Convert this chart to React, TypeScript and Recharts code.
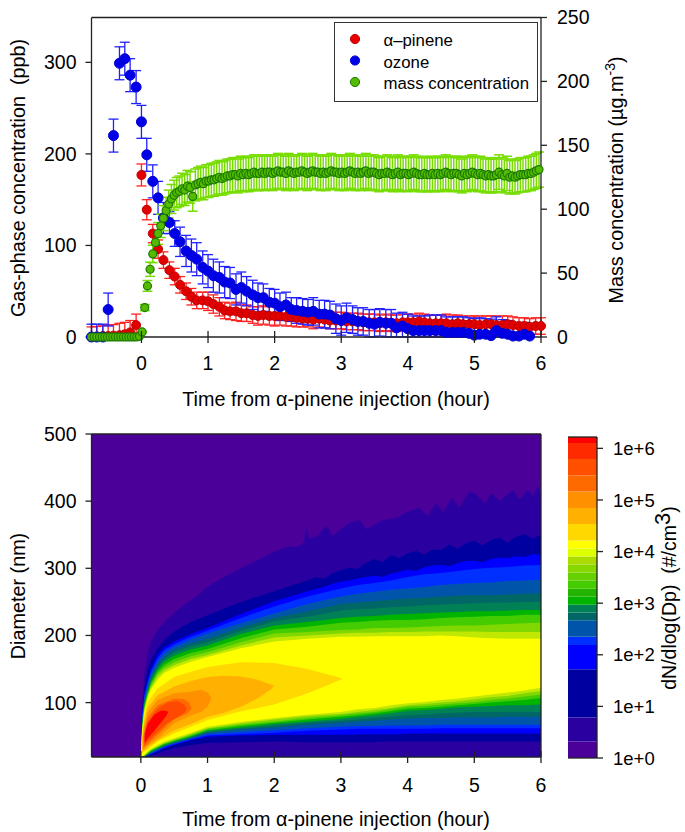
import {
  Area,
  Bar,
  BarChart,
  ComposedChart,
  ErrorBar,
  ReferenceLine,
  Scatter,
  ScatterChart,
  XAxis,
  YAxis,
} from "recharts";

const FONT = '"Liberation Sans", Arial, sans-serif';

// gas-phase readings, every 5 minutes
const gasTimes = [
  -0.75, -0.67, -0.58, -0.5, -0.42, -0.33, -0.25, -0.17, -0.08, 0, 0.08, 0.17, 0.25, 0.33, 0.42, 0.5, 0.58,
  0.67, 0.75, 0.83, 0.92, 1, 1.08, 1.17, 1.25, 1.33, 1.42, 1.5, 1.58, 1.67, 1.75, 1.83, 1.92, 2, 2.08, 2.17,
  2.25, 2.33, 2.42, 2.5, 2.58, 2.67, 2.75, 2.83, 2.92, 3, 3.08, 3.17, 3.25, 3.33, 3.42, 3.5, 3.58, 3.67, 3.75,
  3.83, 3.92, 4, 4.08, 4.17, 4.25, 4.33, 4.42, 4.5, 4.58, 4.67, 4.75, 4.83, 4.92, 5, 5.08, 5.17, 5.25, 5.33,
  5.42, 5.5, 5.58, 5.67, 5.75, 5.83, 5.92, 6,
];
const pineneValues = [
  0, 0.5, 1, 1, 1.5, 2, 3, 5, 13, 177, 139, 113, 96, 84, 73, 66, 57, 50, 44, 40, 40, 39, 36, 33, 29, 28, 28, 26,
  26, 24, 23, 24, 23, 23, 23, 22, 22, 21, 20, 20, 19, 20, 19, 18, 18, 18, 17, 17, 17, 16, 16, 16, 15, 16, 15, 15,
  16, 16, 16, 17, 16, 15, 15, 15, 15, 14, 15, 14, 14, 14, 13, 14, 14, 13, 13, 14, 13, 12, 12, 11, 12, 12,
];
const pineneErrors = [
  11, 11, 12, 12, 12, 13, 13, 13, 12, 12, 11, 10, 10, 9, 9, 9, 9, 9, 9, 9, 9, 10, 10, 10, 9, 9, 10, 9, 9, 9, 10,
  10, 10, 11, 10, 10, 10, 10, 9, 9, 10, 9, 9, 9, 9, 9, 9, 9, 9, 9, 9, 9, 9, 9, 9, 9, 9, 9, 9, 9, 9, 9, 9, 9, 10,
  10, 9, 9, 9, 9, 10, 9, 9, 10, 10, 9, 9, 9, 9, 9, 9, 9,
];
const ozoneValues = [
  0, 0, 0, 30, 220, 299, 304, 286, 273, 235, 199, 170, 152, 130, 125, 113, 104, 94, 89, 85, 76, 72, 67, 65, 60,
  59, 52, 54, 50, 46, 43, 43, 38, 37, 33, 35, 30, 29, 28, 27, 28, 25, 25, 24, 20, 18, 21, 19, 17, 17, 15, 14, 16,
  15, 15, 10, 12, 9, 7, 7, 7, 7, 7, 7, 5, 5, 5, 5, 4, 2, 3, 3, 1.5, 7, 4, 3, 1, 1, 3, 1,
];
const ozoneErrors = [
  14, 14, 14, 18, 18, 18, 18, 18, 18, 18, 18, 18, 18, 17, 12, 14, 16, 17, 18, 18, 18, 18, 18, 17, 17, 17, 17, 17,
  16, 16, 16, 15, 15, 15, 15, 14, 13, 14, 14, 14, 15, 15, 15, 15, 16, 16, 16, 15, 15, 15, 15, 16, 15, 15, 15, 16,
  15, 16, 16, 16, 16, 17, 17, 17, 17, 17, 17, 17, 17, 18, 18, 17, 18, 15, 15, 15, 15, 14, 13, 14,
];

// aerosol mass readings are denser than the gas ones
const massTimes = [
  -0.75, -0.71, -0.67, -0.63, -0.59, -0.55, -0.51, -0.47, -0.43, -0.39, -0.35, -0.31, -0.27, -0.23, -0.19, -0.15,
  -0.11, -0.07, -0.03, 0.01, 0.05, 0.09, 0.13, 0.17, 0.21, 0.25, 0.29, 0.33, 0.37, 0.41, 0.45, 0.49, 0.53, 0.57,
  0.61, 0.65, 0.69, 0.73, 0.77, 0.81, 0.85, 0.89, 0.93, 0.97, 1.01, 1.05, 1.09, 1.13, 1.17, 1.21, 1.25, 1.29, 1.33,
  1.37, 1.41, 1.45, 1.49, 1.53, 1.57, 1.61, 1.65, 1.69, 1.73, 1.77, 1.81, 1.85, 1.89, 1.93, 1.97, 2.01, 2.05, 2.09,
  2.13, 2.17, 2.21, 2.25, 2.29, 2.33, 2.37, 2.41, 2.45, 2.49, 2.53, 2.57, 2.61, 2.65, 2.69, 2.73, 2.77, 2.81, 2.85,
  2.89, 2.93, 2.97, 3.01, 3.05, 3.09, 3.13, 3.17, 3.21, 3.25, 3.29, 3.33, 3.37, 3.41, 3.45, 3.49, 3.53, 3.57, 3.61,
  3.65, 3.69, 3.73, 3.77, 3.81, 3.85, 3.89, 3.93, 3.97, 4.01, 4.05, 4.09, 4.13, 4.17, 4.21, 4.25, 4.29, 4.33, 4.37,
  4.41, 4.45, 4.49, 4.53, 4.57, 4.61, 4.65, 4.69, 4.73, 4.77, 4.81, 4.85, 4.89, 4.93, 4.97, 5.01, 5.05, 5.09, 5.13,
  5.17, 5.21, 5.25, 5.29, 5.33, 5.37, 5.41, 5.45, 5.49, 5.53, 5.57, 5.61, 5.65, 5.69, 5.73, 5.77, 5.81, 5.85, 5.89,
  5.93, 5.97,
];
const massValues = [
  0, 0, 0, 0, 0, 0, 0, 0, 0, 0, 0, 0, 0, 0, 0, 0, 0, 0, 0.5, 4, 23, 40, 53, 65, 74, 81, 87, 93, 99, 104, 108, 111,
  113, 114, 116, 115, 118, 117, 110, 119, 120, 121, 120, 122, 122, 123, 123, 124, 125, 124, 125, 126, 126, 127, 127,
  126, 128, 127, 128, 127, 128, 129, 128, 128, 129, 128, 129, 129, 128, 129, 130, 129, 129, 128, 130, 129, 128, 129,
  129, 130, 129, 128, 129, 130, 129, 129, 128, 129, 128, 129, 130, 129, 129, 128, 129, 128, 129, 130, 129, 128, 129,
  128, 129, 130, 128, 129, 129, 128, 127, 128, 128, 129, 128, 127, 128, 129, 127, 128, 128, 127, 128, 129, 128, 127,
  127, 128, 127, 127, 128, 127, 128, 127, 128, 129, 128, 127, 128, 128, 127, 126, 128, 127, 128, 129, 128, 127, 128,
  127, 126, 127, 126, 126, 127, 129, 127, 126, 128, 125, 126, 125, 126, 127, 127, 127, 128, 128, 129, 130, 131,
];
const massRelativeError = 0.105;

const leftTicks = [0, 100, 200, 300];
const rightTicks = [0, 50, 100, 150, 200, 250];
const timeTicks = [0, 1, 2, 3, 4, 5, 6];
const diameterTicks = [100, 200, 300, 400, 500];
const legendNames = ["α–pinene", "ozone", "mass concentration"];
const legendFills = ["#E80000", "#0000E8", "#55BB00"];
const legendEdges = ["#C00000", "#0000D0", "#1A7A00"];

// contour boundaries of the size distribution (nm)
const contourTimes = [
  0, 0.02, 0.05, 0.1, 0.15, 0.25, 0.35, 0.5, 0.75, 1, 1.5, 2, 2.5, 3, 3.25, 3.5, 3.75, 4, 4.25, 4.5, 4.75, 5, 5.25,
  5.5, 5.75, 6,
];
const indigoTimes = [
  0, 0.02, 0.05, 0.1, 0.15, 0.25, 0.4, 0.58, 0.88, 1, 1.25, 1.5, 1.75, 2, 2.2, 2.38, 2.45, 2.48, 2.53, 2.63, 2.78,
  2.88, 3, 3.13, 3.28, 3.38, 3.63, 3.83, 3.98, 4.18, 4.3, 4.43, 4.53, 4.66, 4.78, 4.93, 5.03, 5.16, 5.26, 5.38, 5.58,
  5.68, 5.8, 5.88, 5.95, 6,
];
const indigoHi = [
  20, 100, 140, 173, 190, 208, 225, 240, 262, 273, 287, 300, 312, 325, 332, 333, 340, 360, 344, 347, 363, 348, 358,
  368, 372, 358, 372, 375, 383, 390, 378, 398, 383, 405, 390, 415, 410, 397, 412, 400, 417, 402, 417, 407, 425, 405,
];
const indigoLo = [
  19, 19, 19, 19, 19, 19, 19, 19, 19, 19, 19, 19, 19, 19, 19, 19, 19, 19, 19, 19, 19, 19, 19, 19, 19, 19, 19, 19, 19,
  19, 19, 19, 19, 19, 19, 19, 19, 19, 19, 19, 19, 19, 19, 19, 19, 19,
];
// the two blue edges are rougher, so they get a finer time grid
const roughTimes = [
  0, 0.02, 0.05, 0.1, 0.15, 0.25, 0.35, 0.5, 0.75, 1, 1.5, 2, 2.5, 2.625, 2.75, 2.875, 3, 3.125, 3.25, 3.375, 3.5,
  3.625, 3.75, 3.875, 4, 4.125, 4.25, 4.375, 4.5, 4.625, 4.75, 4.875, 5, 5.125, 5.25, 5.375, 5.5, 5.625, 5.75, 5.875,
  6,
];
const darkHi = [
  20, 90, 122, 149, 163, 181, 193, 206, 220, 230, 250, 266, 282, 287, 284, 293, 297, 301, 299, 308, 314, 309, 320, 315,
  322, 326, 320, 328, 327, 335, 329, 337, 341, 334, 342, 346, 338, 347, 351, 344, 350,
];
const darkLo = [
  20, 19, 19, 20, 21, 24, 28, 32, 37, 40, 41, 42, 41, 41, 41, 41, 41, 41, 41, 41, 41, 42, 42, 42, 42, 42, 42, 42, 42,
  42, 42, 42, 42, 42, 42, 42, 42, 42, 42, 42, 42,
];
const blueHi = [
  20, 84, 114, 134, 150, 171, 182, 191, 202, 211, 232, 251, 266, 269, 272, 277, 280, 282, 285, 287, 289, 287, 292, 295,
  298, 296, 302, 304, 305, 303, 308, 311, 311, 309, 314, 316, 315, 318, 317, 321, 320,
];
const blueLo = [
  20, 19, 19, 21, 23, 27, 32, 37, 44, 49, 51, 52, 52, 52, 52, 52, 52, 52, 53, 53, 53, 53, 53, 53, 54, 54, 54, 54, 54,
  54, 54, 54, 54, 54, 54, 54, 54, 54, 54, 54, 54,
];
const brightHi = [20, 80, 110, 130, 146, 166, 178, 187, 198, 207, 226, 243, 258, 270, 275, 278, 282, 287, 291, 293, 296, 299, 301, 302, 304, 305];
const brightLo = [20, 19, 19, 21, 24, 28, 33, 38, 45, 51, 53, 55, 58, 60, 61, 61, 61, 61, 61, 62, 62, 62, 62, 62, 62, 62];
const navyHi = [20, 76, 106, 125, 142, 161, 174, 183, 194, 203, 218, 233, 247, 258, 262, 265, 268, 270, 272, 275, 277, 278, 279, 281, 282, 283];
const navyLo = [20, 19, 20, 22, 25, 29, 34, 39, 46, 53, 56, 59, 62, 64, 65, 65, 66, 66, 66, 67, 67, 67, 67, 67, 67, 67];
const tealHi = [20, 72, 102, 122, 138, 156, 168, 178, 188, 195, 212, 226, 236, 247, 249, 251, 253, 255, 256, 258, 259, 260, 260, 261, 262, 263];
const tealLo = [20, 19, 20, 22, 25, 30, 35, 40, 47, 55, 60, 63, 67, 70, 72, 73, 75, 76, 77, 77, 78, 78, 78, 79, 79, 79];
const seaHi = [20, 70, 99, 119, 135, 153, 165, 175, 184, 190, 207, 221, 228, 237, 239, 240, 242, 243, 245, 246, 247, 248, 249, 249, 250, 250];
const seaLo = [20, 19, 20, 23, 26, 31, 36, 41, 48, 56, 61, 65, 70, 73, 75, 77, 79, 81, 82, 84, 85, 86, 86, 86, 86, 86];
const greenHi = [20, 67, 96, 116, 131, 150, 161, 170, 179, 185, 202, 215, 220, 226, 228, 229, 231, 232, 233, 234, 235, 236, 236, 237, 238, 238];
const greenLo = [20, 19, 20, 23, 27, 32, 37, 42, 49, 58, 63, 68, 72, 76, 79, 81, 84, 88, 89, 91, 93, 94, 95, 96, 96, 97];
const limeHi = [20, 64, 93, 113, 128, 146, 156, 165, 174, 180, 196, 209, 213, 219, 220, 222, 223, 223, 224, 226, 227, 228, 229, 229, 231, 231];
const limeLo = [20, 20, 20, 24, 28, 33, 38, 43, 50, 59, 65, 70, 75, 79, 81, 84, 87, 91, 92, 94, 96, 98, 100, 102, 104, 107];
const grassHi = [20, 62, 90, 111, 125, 143, 152, 160, 169, 175, 190, 203, 205, 208, 209, 211, 211, 212, 213, 214, 215, 215, 216, 217, 218, 219];
const grassLo = [20, 20, 21, 25, 29, 34, 39, 44, 52, 61, 67, 72, 77, 81, 84, 86, 90, 94, 95, 97, 99, 101, 104, 106, 109, 112];
const oliveHi = [20, 60, 88, 109, 122, 139, 148, 156, 165, 171, 185, 197, 200, 203, 204, 204, 205, 205, 206, 206, 206, 206, 205, 205, 205, 205];
const oliveLo = [20, 20, 21, 26, 30, 35, 40, 45, 53, 62, 69, 75, 80, 83, 86, 89, 92, 96, 98, 100, 102, 105, 108, 110, 114, 117];
const yellowHi = [20, 58, 85, 107, 119, 134, 144, 152, 161, 168, 181, 191, 195, 198, 198, 199, 199, 199, 199, 200, 199, 197, 196, 195, 195, 195];
const yellowLo = [20, 20, 22, 27, 31, 37, 42, 47, 55, 64, 71, 77, 82, 86, 90, 92, 96, 99, 101, 104, 106, 109, 112, 115, 118, 122];
const goldTimes = [0.02, 0.05, 0.1, 0.25, 0.5, 0.75, 1, 1.5, 2, 2.5, 2.8, 2.95, 3.03];
const goldHi = [50, 78, 100, 121, 138, 146, 153, 160, 159, 150, 142, 138, 135];
const goldLo = [25, 27, 30, 42, 54, 64, 74, 87, 97, 114, 126, 132, 135];
const amberTimes = [0.02, 0.05, 0.1, 0.25, 0.5, 0.75, 1, 1.25, 1.5, 1.75, 1.95, 2];
const amberHi = [45, 70, 92, 111, 124, 132, 138, 140, 139, 134, 127, 125];
const amberLo = [27, 29, 33, 44, 59, 68, 79, 85, 94, 106, 120, 125];
const orangeTimes = [0.03, 0.05, 0.1, 0.25, 0.5, 0.75, 0.9, 1, 1.06];
const orangeHi = [48, 64, 85, 104, 114, 116, 119, 115, 107];
const orangeLo = [30, 31, 36, 47, 69, 81, 86, 94, 107];
const tangerineTimes = [0.04, 0.1, 0.25, 0.5, 0.65, 0.72, 0.76];
const tangerineHi = [50, 78, 96, 106, 105, 100, 92];
const tangerineLo = [33, 38, 52, 76, 82, 86, 92];
const vermilionTimes = [0.05, 0.1, 0.25, 0.4, 0.55, 0.65, 0.69];
const vermilionHi = [50, 72, 91, 100, 102, 97, 90];
const vermilionLo = [36, 42, 56, 70, 78, 85, 90];
const redTimes = [0.06, 0.1, 0.2, 0.3, 0.38, 0.41];
const redHi = [55, 68, 82, 88, 88, 86];
const redLo = [40, 46, 58, 70, 80, 86];
const floorTimes = [0.1, 6];
const floorHi = [20.5, 20.5];
const floorLo = [19, 19];
const baseTimes = [-0.74, 6];
const baseHi = [500, 500];
const baseLo = [19, 19];

const contours = [
  { color: "#4B0099", t: baseTimes, lo: baseLo, hi: baseHi },
  { color: "#2A00A0", t: indigoTimes, lo: indigoLo, hi: indigoHi },
  { color: "#0000A0", t: roughTimes, lo: darkLo, hi: darkHi },
  { color: "#0000FF", t: roughTimes, lo: blueLo, hi: blueHi },
  { color: "#0030FF", t: contourTimes, lo: brightLo, hi: brightHi },
  { color: "#0055AA", t: contourTimes, lo: navyLo, hi: navyHi },
  { color: "#006666", t: contourTimes, lo: tealLo, hi: tealHi },
  { color: "#008055", t: contourTimes, lo: seaLo, hi: seaHi },
  { color: "#00B400", t: contourTimes, lo: greenLo, hi: greenHi },
  { color: "#44CC00", t: contourTimes, lo: limeLo, hi: limeHi },
  { color: "#80D800", t: contourTimes, lo: grassLo, hi: grassHi },
  { color: "#C0E800", t: contourTimes, lo: oliveLo, hi: oliveHi },
  { color: "#FFFF00", t: contourTimes, lo: yellowLo, hi: yellowHi },
  { color: "#FFD800", t: goldTimes, lo: goldLo, hi: goldHi },
  { color: "#FFB000", t: amberTimes, lo: amberLo, hi: amberHi },
  { color: "#FF9000", t: orangeTimes, lo: orangeLo, hi: orangeHi },
  { color: "#FF6A00", t: tangerineTimes, lo: tangerineLo, hi: tangerineHi },
  { color: "#FF4800", t: vermilionTimes, lo: vermilionLo, hi: vermilionHi },
  { color: "#FF0000", t: redTimes, lo: redLo, hi: redHi },
  { color: "#0000FF", t: floorTimes, lo: floorLo, hi: floorHi },
];

// colour bar, thickness of each band in decades, from the bottom
const bandWidths = [
  0.32, 0.465, 0.935, 0.47, 0.16, 0.32, 0.15, 0.15, 0.16, 0.15, 0.16, 0.155, 0.155, 0.155, 0.155, 0.155, 0.32, 0.31,
  0.32, 0.31, 0.32, 0.31, 0.115,
];
const bandColors = [
  "#4B0099", "#2A00A0", "#0000A0", "#0000FF", "#0030FF", "#0055AA", "#006666", "#008055", "#00B400", "#22B400",
  "#44CC00", "#66D000", "#88D800", "#AADC00", "#DDFF00", "#FFFF00", "#FFD800", "#FFB000", "#FF9000", "#FF6A00",
  "#FF5000", "#FF2A00", "#FF0000",
];
const barTicks = [0, 1, 2, 3, 4, 5, 6];

const pineneData = gasTimes.map((t, i) => ({ t, v: pineneValues[i], e: [Math.min(pineneErrors[i], pineneValues[i]), pineneErrors[i]] }));
const ozoneData = ozoneValues.map((v, i) => ({ t: gasTimes[i], v, e: [Math.min(ozoneErrors[i], v), ozoneErrors[i]] }));
const massData = massTimes.map((t, i) => ({ t, v: massValues[i], e: massValues[i] * massRelativeError }));
const bandRow = [{ name: "dN", ...Object.fromEntries(bandWidths.map((w, i) => [`b${i}`, w])) }];

function makeDot(r: number, fill: string, stroke: string, sw = 1) {
  return (p: any) => <circle cx={p.cx} cy={p.cy} r={r} fill={fill} stroke={stroke} strokeWidth={sw} />;
}

function makeTimeTick(labelOffset: number) {
  return ({ x, y, payload }: any) => (
    <g>
      <line x1={x} x2={x} y1={y - 6} y2={y + 6} stroke="#222" strokeWidth={1.3} />
      <text x={x} y={y + labelOffset} textAnchor="middle" fontSize={19.5} fontFamily={FONT} fill="#000">
        {payload.value}
      </text>
    </g>
  );
}

function TimeTitle({ y }: { y: number }) {
  return (
    <text x={336} y={y} textAnchor="middle" fontSize={19.8} fontFamily={FONT} fill="#000">
      Time from α-pinene injection (hour)
    </text>
  );
}

function SideTitle({ x, y, children, size = 19.8 }: any) {
  return (
    <text
      transform={`rotate(-90 ${x} ${y})`}
      x={x}
      y={y}
      textAnchor="middle"
      fontSize={size}
      fontFamily={FONT}
      fill="#000"
    >
      {children}
    </text>
  );
}

const tickStyle = { fontSize: 19.5, fontFamily: FONT, fill: "#000" };
const barTickStyle = { fontSize: 18.5, fontFamily: FONT, fill: "#000" };
const axisLine = { stroke: "#222", strokeWidth: 1.3 };

function GasChart() {
  return (
    <ScatterChart width={685} height={420} margin={{ top: 17.5, right: 84, bottom: 53, left: 41.5 }}>
      <XAxis
        type="number"
        dataKey="t"
        domain={[-0.74, 6]}
        ticks={timeTicks}
        height={30}
        tickSize={0}
        tickMargin={0}
        tick={makeTimeTick(33)}
        axisLine={axisLine}
      />
      <YAxis
        yAxisId="gas"
        type="number"
        dataKey="v"
        domain={[0, 349]}
        ticks={leftTicks}
        width={50}
        tick={tickStyle}
        tickSize={6}
        tickMargin={9}
        axisLine={axisLine}
        tickLine={axisLine}
      />
      <YAxis
        yAxisId="mass"
        orientation="right"
        type="number"
        dataKey="v"
        domain={[0, 250]}
        ticks={rightTicks}
        width={60}
        tick={tickStyle}
        tickSize={6}
        tickMargin={10}
        axisLine={axisLine}
        tickLine={axisLine}
      />
      <ReferenceLine yAxisId="gas" y={349} stroke="#222" strokeWidth={1.3} />
      <Scatter yAxisId="gas" data={pineneData} shape={makeDot(4.5, "#E00000", "#C00000")} isAnimationActive={false}>
        <ErrorBar dataKey="e" direction="y" width={5} stroke="#FF2020" strokeWidth={1.3} isAnimationActive={false} />
      </Scatter>
      <Scatter yAxisId="gas" data={ozoneData} shape={makeDot(5, "#0000E8", "#0000D0")} isAnimationActive={false}>
        <ErrorBar dataKey="e" direction="y" width={5} stroke="#2020FF" strokeWidth={1.3} isAnimationActive={false} />
      </Scatter>
      <Scatter yAxisId="mass" data={massData} shape={makeDot(4, "#55BB00", "#1A7A00", 1.2)} isAnimationActive={false}>
        <ErrorBar dataKey="e" direction="y" width={5} stroke="#77DD00" strokeWidth={1.5} isAnimationActive={false} />
      </Scatter>

      <rect x={334.5} y={22.5} width={203} height={79} fill="#fff" stroke="#333" strokeWidth={1} />
      {legendNames.map((name, i) => (
        <g key={name}>
          <circle cx={355} cy={39 + i * 21.5} r={4.6} fill={legendFills[i]} stroke={legendEdges[i]} />
          <text x={383.5} y={46 + i * 21.5} fontSize={16.8} fontFamily={FONT} fill="#000">
            {name}
          </text>
        </g>
      ))}

      <TimeTitle y={406} />
      <SideTitle x={25} y={178}>
        Gas-phase concentration{"\u00A0\u00A0"}(ppb)
      </SideTitle>
      <SideTitle x={623} y={180}>
        Mass concentration (µg.m
        <tspan fontSize={14} dy={-8}>
          -3
        </tspan>
        <tspan dy={8}>)</tspan>
      </SideTitle>
    </ScatterChart>
  );
}

function SizeChart() {
  return (
    <ComposedChart width={685} height={412} margin={{ top: 14, right: 144, bottom: 45, left: 41.5 }}>
      {contours.map((c, i) => (
        <Area
          key={i}
          data={c.t.map((t, j) => ({ t, range: [c.lo[j], c.hi[j]] }))}
          dataKey="range"
          type="linear"
          stroke="none"
          fill={c.color}
          fillOpacity={1}
          dot={false}
          activeDot={false}
          isAnimationActive={false}
        />
      ))}
      <XAxis
        type="number"
        dataKey="t"
        domain={[-0.74, 6]}
        ticks={timeTicks}
        height={30}
        tickSize={0}
        tickMargin={0}
        tick={makeTimeTick(35)}
        axisLine={axisLine}
        allowDuplicatedCategory={false}
      />
      <YAxis
        type="number"
        domain={[19, 500]}
        ticks={diameterTicks}
        width={50}
        tick={tickStyle}
        tickSize={6}
        tickMargin={9}
        axisLine={axisLine}
        tickLine={axisLine}
        allowDataOverflow
      />
      <ReferenceLine x={6} stroke="#222" strokeWidth={1.3} />
      <ReferenceLine y={500} stroke="#222" strokeWidth={1.3} />
      <TimeTitle y={406} />
      <SideTitle x={25} y={176}>
        Diameter (nm)
      </SideTitle>
    </ComposedChart>
  );
}

function ColorBar() {
  return (
    <BarChart
      width={125}
      height={412}
      data={bandRow}
      barCategoryGap={0}
      margin={{ top: 17, right: 28, bottom: 74, left: 8 }}
    >
      <XAxis hide dataKey="name" />
      <YAxis yAxisId="side" orientation="left" width={0} tick={false} tickLine={false} axisLine={axisLine} domain={[0, 6.22]} />
      <YAxis
        orientation="right"
        type="number"
        domain={[0, 6.22]}
        ticks={barTicks}
        width={60}
        tick={barTickStyle}
        tickFormatter={(v: number) => `1e+${v}`}
        tickSize={6}
        tickMargin={10}
        axisLine={axisLine}
        tickLine={axisLine}
        allowDataOverflow
      />
      {bandWidths.map((_, i) => (
        <Bar key={i} dataKey={`b${i}`} stackId="bar" fill={bandColors[i]} isAnimationActive={false} />
      ))}
      <ReferenceLine y={6.22} stroke="#222" strokeWidth={1.3} />
      <ReferenceLine y={0} stroke="#222" strokeWidth={1.3} />
      <SideTitle x={116} y={178} size={19.5}>
        dN/dlog(Dp){"\u00A0\u00A0"}(#/cm
        <tspan fontSize={22} dy={-6}>
          3
        </tspan>
        <tspan dy={6}>)</tspan>
      </SideTitle>
    </BarChart>
  );
}

export default function App() {
  return (
    <div style={{ position: "absolute", left: 0, top: 0, width: 685, height: 832, background: "#fff", overflow: "hidden" }}>
      <div style={{ position: "absolute", left: 0, top: 0 }}>
        <GasChart />
      </div>
      <div style={{ position: "absolute", left: 0, top: 420 }}>
        <SizeChart />
      </div>
      <div style={{ position: "absolute", left: 560, top: 420 }}>
        <ColorBar />
      </div>
    </div>
  );
}
